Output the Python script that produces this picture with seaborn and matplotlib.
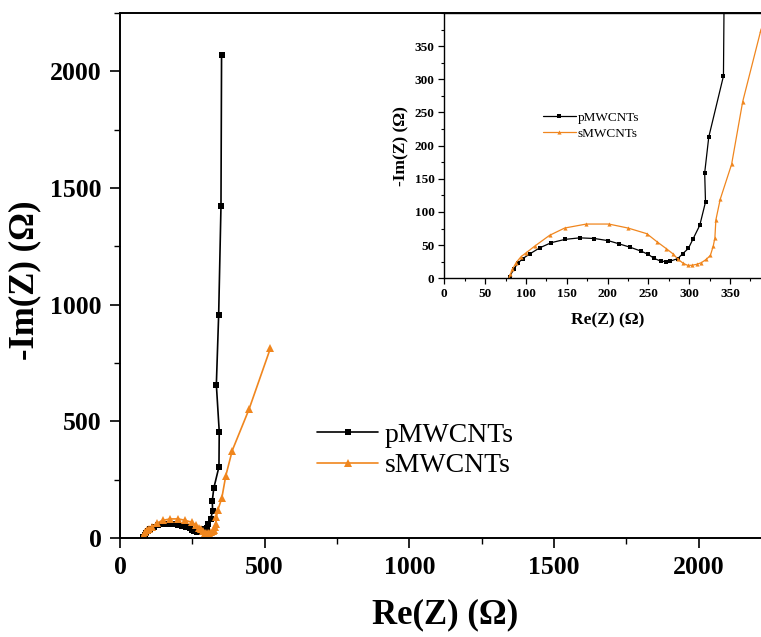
import matplotlib
matplotlib.use("Agg")
import matplotlib.pyplot as plt
import seaborn as sns
import pandas as pd
from matplotlib.ticker import MultipleLocator, FixedLocator

# ---- data ----
p_re = [80, 85, 90, 96, 105, 117, 131, 148, 166, 184, 201, 214, 228, 241, 250,
        257, 265, 272, 277, 286, 292, 299, 305, 313, 320, 319, 324, 342, 343,
        333, 341, 349, 351]
p_im = [2.5, 13.5, 22.6, 29.6, 37, 46, 53.7, 58.7, 61, 60, 56.7, 52, 46.7, 41,
        36, 30, 26, 25, 26, 29.6, 37, 45, 60, 80, 115, 159, 213, 305, 456, 657,
        957, 1422, 2071]
s_re = [79, 81, 83.4, 88, 94, 100.5, 111, 129, 147.5, 174, 201.5, 225, 248, 261,
        272, 280, 286.5, 292.7, 298, 303, 309, 315, 321, 326, 329.5, 331.5,
        332.7, 338, 352, 365.5, 388, 446, 520]
s_im = [0, 6, 13.5, 23.6, 32.6, 38.7, 48.7, 64.8, 75.8, 81.8, 81.8, 75.8, 67.3,
        54.7, 44.7, 37, 28.6, 22.6, 19.6, 19.6, 21, 23.6, 28.6, 34.6, 48.7, 61,
        88, 119, 172, 266, 375, 552, 814]
labels = ["pMWCNTs", "sMWCNTs"]
main_xticks = [0, 500, 1000, 1500, 2000]
main_yticks = [0, 500, 1000, 1500, 2000]
inset_ticks = [0, 50, 100, 150, 200, 250, 300, 350]

BLACK = "#000000"
ORANGE = "#F0861E"

sns.set_style("ticks")
plt.rcParams["font.family"] = ["Liberation Serif", "DejaVu Serif"]
plt.rcParams["text.color"] = "black"
plt.rcParams["axes.labelcolor"] = "black"
plt.rcParams["xtick.color"] = "black"
plt.rcParams["ytick.color"] = "black"
plt.rcParams["axes.edgecolor"] = "black"

W, H = 761, 637
fig = plt.figure(figsize=(W / 100, H / 100), dpi=100)

def frac(left, top, right, bottom):
    return [left / W, 1 - bottom / H, (right - left) / W, (bottom - top) / H]

df_p = pd.DataFrame({"x": p_re, "y": p_im})
df_s = pd.DataFrame({"x": s_re, "y": s_im})

# ---- main axes ----
ax = fig.add_axes(frac(120, 13, 771, 538))
sns.lineplot(data=df_p, x="x", y="y", sort=False, estimator=None, ax=ax,
             color=BLACK, marker="s", markersize=5, markeredgewidth=0,
             linewidth=1.2, label=labels[0])
sns.lineplot(data=df_s, x="x", y="y", sort=False, estimator=None, ax=ax,
             color=ORANGE, marker="^", markersize=6, markeredgewidth=0,
             linewidth=1.2, label=labels[1])
ax.set_xlim(0, 2250)
ax.set_ylim(0, 2250)
ax.xaxis.set_major_locator(FixedLocator(main_xticks))
ax.yaxis.set_major_locator(FixedLocator(main_yticks))
ax.xaxis.set_minor_locator(MultipleLocator(250))
ax.yaxis.set_minor_locator(MultipleLocator(250))
ax.tick_params(which="major", direction="out", length=7, width=1.2, pad=6,
               labelsize=18.5, color="black", labelcolor="black")
ax.tick_params(which="minor", direction="out", length=4, width=1.0, color="black")
for lab in ax.get_xticklabels() + ax.get_yticklabels():
    lab.set_fontweight("bold")
for sp in ax.spines.values():
    sp.set_linewidth(1.4)
    sp.set_color("black")
ax.set_xlabel("Re(Z) (Ω)", fontsize=25, fontweight="bold", color="black")
ax.set_ylabel("-Im(Z) (Ω)", fontsize=25, fontweight="bold", color="black")
ax.xaxis.set_label_coords(0.5, (538 - 615) / 525)
ax.xaxis.label.set_va("center")
ax.yaxis.set_label_coords((25 - 120) / 651, (538 - 280) / 525)
ax.yaxis.label.set_va("center")
leg = ax.legend(loc="center left",
                bbox_to_anchor=(317 / W, 1 - 450.5 / H),
                bbox_transform=fig.transFigure, frameon=False, fontsize=20,
                handlelength=2.2, handletextpad=0.25, labelspacing=0.18,
                borderpad=0, borderaxespad=0)
for t in leg.get_texts():
    t.set_color("black")

# ---- inset axes ----
ins = fig.add_axes(frac(444.3, 13, 770.8, 278.3))
sns.lineplot(data=df_p, x="x", y="y", sort=False, estimator=None, ax=ins,
             color=BLACK, marker="s", markersize=2.6, markeredgewidth=0,
             linewidth=0.9, label=labels[0])
sns.lineplot(data=df_s, x="x", y="y", sort=False, estimator=None, ax=ins,
             color=ORANGE, marker="^", markersize=3.0, markeredgewidth=0,
             linewidth=0.9, label=labels[1])
ins.set_xlim(0, 400)
ins.set_ylim(0, 400)
ins.xaxis.set_major_locator(FixedLocator(inset_ticks))
ins.yaxis.set_major_locator(FixedLocator(inset_ticks))
ins.xaxis.set_minor_locator(MultipleLocator(25))
ins.yaxis.set_minor_locator(MultipleLocator(25))
ins.tick_params(which="major", direction="out", length=4, width=0.9, pad=3,
                labelsize=9.5, color="black", labelcolor="black")
ins.tick_params(which="minor", direction="out", length=2.5, width=0.8, color="black")
for lab in ins.get_xticklabels() + ins.get_yticklabels():
    lab.set_fontweight("bold")
for sp in ins.spines.values():
    sp.set_linewidth(1.0)
    sp.set_color("black")
ins.set_xlabel("Re(Z) (Ω)", fontsize=12.5, fontweight="bold", color="black")
ins.set_ylabel("-Im(Z) (Ω)", fontsize=12.5, fontweight="bold", color="black")
ins.xaxis.set_label_coords(0.5, (278.3 - 320) / 265.3)
ins.xaxis.label.set_va("center")
ins.yaxis.set_label_coords((401.7 - 444.3) / 326.5, 0.5)
ins.yaxis.label.set_va("center")
ileg = ins.legend(loc="center left",
                  bbox_to_anchor=(543 / W, 1 - 125.8 / H),
                  bbox_transform=fig.transFigure, frameon=False, fontsize=9.5,
                  handlelength=2.5, handletextpad=0.1, labelspacing=0.29,
                  borderpad=0, borderaxespad=0)
for t in ileg.get_texts():
    t.set_color("black")

fig.savefig("out.png", dpi=100)
